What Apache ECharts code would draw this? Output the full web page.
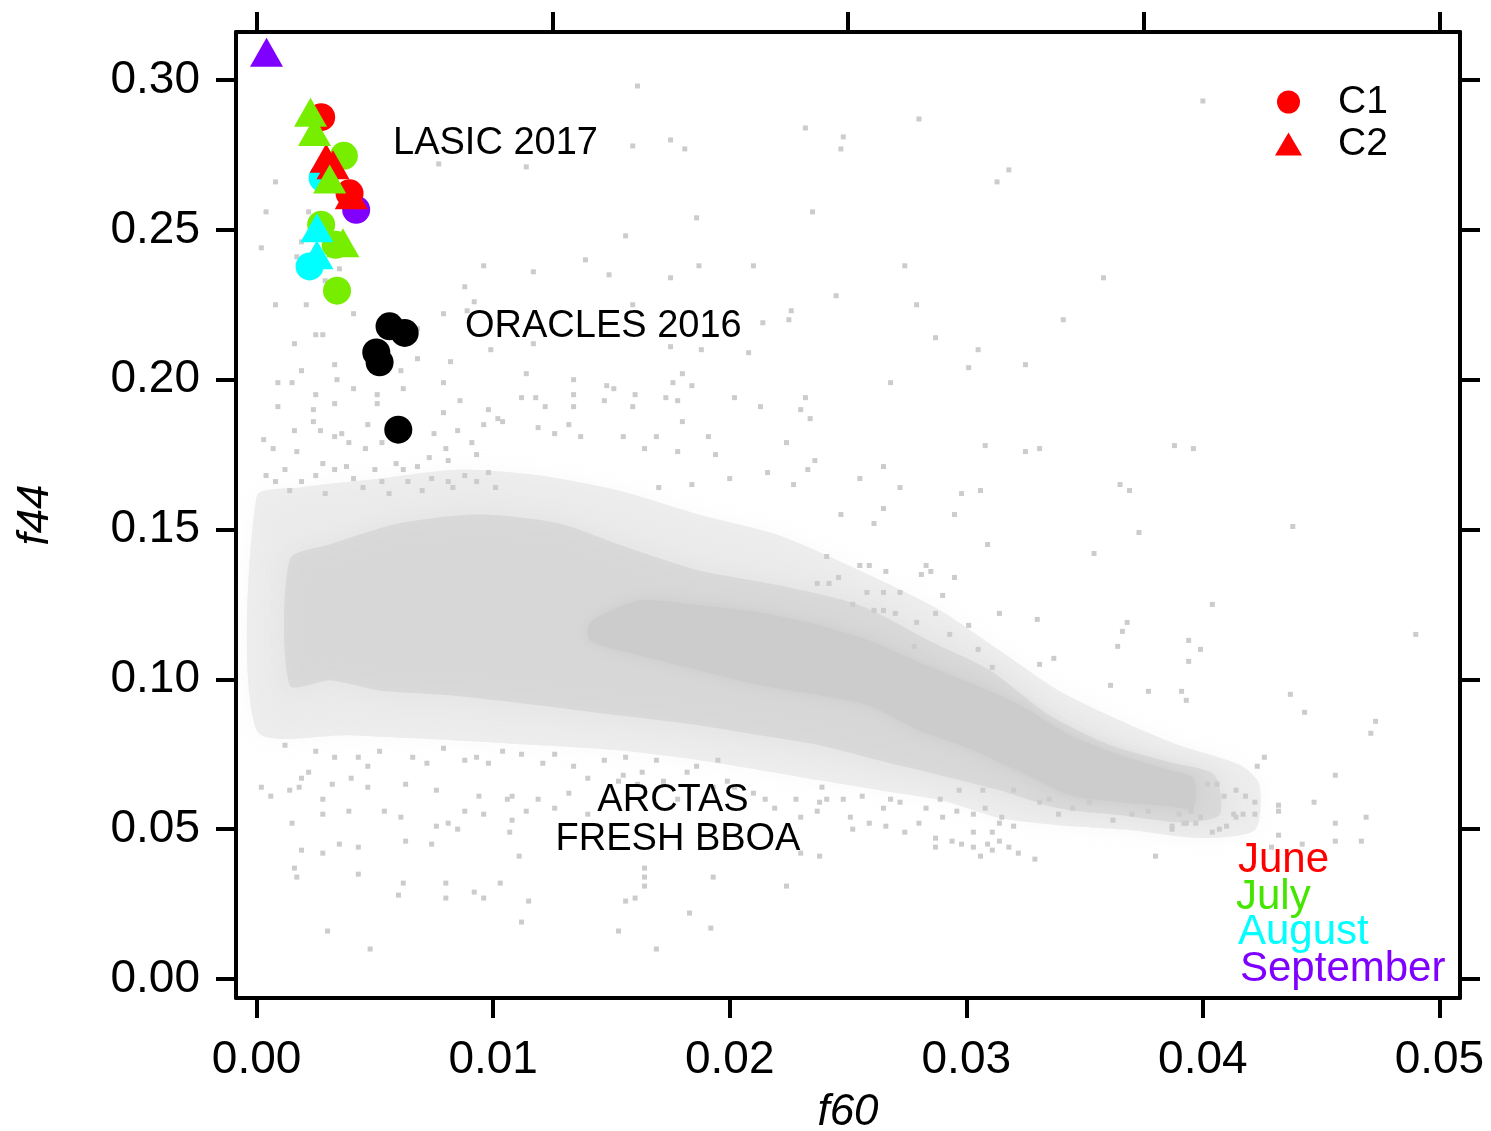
<!DOCTYPE html>
<html>
<head>
<meta charset="utf-8">
<title>f44 vs f60</title>
<script src="https://cdn.jsdelivr.net/npm/echarts@6/dist/echarts.min.js"></script>
<style>
html,body{margin:0;padding:0;background:#fff;}
#chart{width:1491px;height:1131px;}
</style>
</head>
<body>
<div id="chart"></div>
<script>
var FONT = "'Liberation Sans', Arial, Helvetica, sans-serif";

var xTicks = [0, 0.01, 0.02, 0.03, 0.04, 0.05];
var xTopTicks = [0, 0.0125, 0.025, 0.0375, 0.05];
var yTicks = [0, 0.05, 0.10, 0.15, 0.20, 0.25, 0.30];

// LASIC 2017 : C1 = circles, C2 = triangles, one colour per month
var juneC1 = [[0.00273,0.2876],[0.00393,0.2622]];
var juneC2 = [[0.00294,0.2739],[0.00323,0.2717],[0.0040,0.2617]];
var julyC1 = [[0.00369,0.2747],[0.00273,0.2517],[0.00334,0.2450],[0.00340,0.2297]];
var julyC2 = [[0.00228,0.2892],[0.00245,0.2828],[0.00309,0.2670],[0.00365,0.2457]];
var augustC1 = [[0.00279,0.2673],[0.00224,0.2378]];
var augustC2 = [[0.00255,0.2507],[0.00255,0.2417]];
var septC1 = [[0.00421,0.2567]];
var septC2 = [[0.00042,0.3093]];

// ORACLES 2016
var oracles = [[0.00562,0.2178],[0.00626,0.2156],[0.00506,0.2091],[0.00520,0.2058],[0.00599,0.1833]];

// ARCTAS fresh BBOA cloud: density outlines (light, medium, dense core)
var arctasOuter = [[0.0000,0.161],[0.0018,0.164],[0.0052,0.167],[0.0086,0.170],[0.0120,0.168],[0.0153,0.163],
  [0.0187,0.155],[0.0221,0.148],[0.0255,0.1363],[0.0289,0.123],[0.0314,0.1097],[0.0339,0.0963],[0.0365,0.0863],
  [0.0390,0.078],[0.0416,0.0713],[0.0424,0.0647],[0.0422,0.0497],[0.0399,0.047],[0.0369,0.0497],[0.0339,0.0513],
  [0.0314,0.0537],[0.0289,0.0597],[0.0263,0.063],[0.0238,0.0663],[0.0213,0.0697],[0.0187,0.073],[0.0153,0.0763],
  [0.0120,0.078],[0.0082,0.0797],[0.0039,0.0813],[0.0000,0.083]];
var arctasInner = [[0.0014,0.140],[0.0031,0.145],[0.0060,0.152],[0.0094,0.155],[0.0128,0.152],[0.0153,0.145],
  [0.0187,0.1363],[0.0221,0.1313],[0.0255,0.1247],[0.0284,0.113],[0.0310,0.103],[0.0335,0.088],[0.0361,0.078],
  [0.0386,0.0723],[0.0405,0.068],[0.0407,0.0547],[0.0390,0.0523],[0.0365,0.0547],[0.0339,0.057],[0.0314,0.063],
  [0.0289,0.068],[0.0263,0.073],[0.0238,0.078],[0.0213,0.0813],[0.0187,0.0847],[0.0153,0.088],[0.0120,0.0913],
  [0.0082,0.0947],[0.0052,0.0963],[0.0031,0.0997],[0.0014,0.098]];
var arctasCore = [[0.0141,0.119],[0.0162,0.1263],[0.0187,0.1247],[0.0213,0.1223],[0.0238,0.118],[0.0259,0.113],
  [0.0280,0.1057],[0.0301,0.099],[0.0323,0.0913],[0.0344,0.0813],[0.0365,0.0747],[0.0386,0.0697],[0.0396,0.067],
  [0.0396,0.057],[0.0386,0.0577],[0.0365,0.059],[0.0344,0.0613],[0.0323,0.069],[0.0301,0.077],[0.0280,0.083],
  [0.0259,0.0913],[0.0238,0.0947],[0.0213,0.098],[0.0187,0.103],[0.0162,0.108],[0.0141,0.113]];

// ARCTAS single points outside / around the dense part
var arctasPoints = [
  [0.0077,0.272],[0.0008,0.266],[0.0004,0.256],[0.0022,0.256],[0.0002,0.244],[0.0019,0.246],[0.0017,0.241],
  [0.0035,0.237],[0.0096,0.238],[0.0088,0.231],[0.0092,0.226],[0.0008,0.225],[0.0021,0.225],[0.0041,0.222],
  [0.0079,0.222],[0.0089,0.223],[0.0029,0.233],[0.0025,0.215],[0.0028,0.215],[0.0016,0.212],[0.0068,0.217],
  [0.0099,0.210],[0.0033,0.205],[0.0019,0.203],[0.0068,0.207],[0.0082,0.206],[0.0061,0.203],[0.0034,0.200],
  [0.0009,0.199],[0.0015,0.199],[0.0041,0.197],[0.0062,0.197],[0.0079,0.199],[0.0025,0.195],[0.0051,0.195],
  [0.0033,0.192],[0.0009,0.191],[0.0024,0.190],[0.0051,0.192],[0.0086,0.193],[0.0098,0.190],[0.0079,0.189],
  [0.0102,0.187],[0.0024,0.186],[0.0047,0.185],[0.0096,0.185],[0.0016,0.183],[0.0027,0.183],[0.0036,0.182],
  [0.0075,0.182],[0.0085,0.183],[0.0003,0.180],[0.0033,0.181],[0.0039,0.179],[0.0053,0.179],[0.0080,0.177],
  [0.0091,0.179],[0.0007,0.177],[0.0017,0.176],[0.0046,0.177],[0.0073,0.174],[0.0093,0.175],[0.0028,0.172],
  [0.0038,0.171],[0.0059,0.172],[0.0068,0.171],[0.0081,0.173],[0.0004,0.168],[0.0012,0.170],[0.0025,0.168],
  [0.0033,0.170],[0.0050,0.170],[0.0062,0.170],[0.0074,0.167],[0.0088,0.168],[0.0098,0.169],[0.0008,0.166],
  [0.0019,0.166],[0.0041,0.167],[0.0053,0.166],[0.0064,0.166],[0.0081,0.166],[0.0093,0.166],[0.0014,0.163],
  [0.0029,0.162],[0.0045,0.164],[0.0056,0.162],[0.0070,0.163],[0.0083,0.164],[0.0101,0.164],
  [0.0161,0.298],[0.0280,0.287],[0.0232,0.284],[0.0248,0.281],[0.0247,0.277],[0.0175,0.280],[0.0181,0.277],
  [0.0159,0.278],[0.0114,0.271],[0.0318,0.270],[0.0313,0.266],[0.0186,0.254],[0.0235,0.256],[0.0156,0.248],
  [0.0139,0.240],[0.0117,0.236],[0.0149,0.235],[0.0175,0.234],[0.0187,0.238],[0.0210,0.238],[0.0274,0.238],
  [0.0358,0.234],[0.0245,0.228],[0.0279,0.225],[0.0159,0.225],[0.0226,0.223],[0.0225,0.220],[0.0214,0.219],
  [0.0287,0.214],[0.0268,0.199],[0.0175,0.211],[0.0188,0.210],[0.0208,0.209],[0.0117,0.212],[0.0114,0.202],
  [0.0134,0.200],[0.0180,0.202],[0.0176,0.199],[0.0184,0.198],[0.0148,0.198],[0.0151,0.197],[0.0160,0.195],
  [0.0134,0.195],[0.0112,0.194],[0.0118,0.194],[0.0147,0.193],[0.0173,0.194],[0.0178,0.193],[0.0202,0.194],
  [0.0232,0.194],[0.0122,0.191],[0.0134,0.191],[0.0159,0.191],[0.0213,0.191],[0.0230,0.190],[0.0234,0.187],
  [0.0180,0.186],[0.0132,0.185],[0.0104,0.186],[0.0224,0.179],[0.0191,0.181],[0.0169,0.181],[0.0155,0.181],
  [0.0137,0.181],[0.0126,0.182],[0.0119,0.184],[0.0164,0.177],[0.0178,0.176],[0.0194,0.175],[0.0236,0.173],
  [0.0233,0.170],[0.0265,0.171],[0.0255,0.167],[0.0272,0.164],[0.0265,0.157],[0.0261,0.152],[0.0247,0.155],
  [0.0216,0.169],[0.0200,0.167],[0.0184,0.165],[0.0170,0.164],[0.0227,0.165],[0.0400,0.293],
  [0.0341,0.220],[0.0305,0.210],[0.0301,0.204],[0.0325,0.205],[0.0308,0.178],[0.0325,0.176],[0.0331,0.177],
  [0.0388,0.178],[0.0396,0.177],[0.0365,0.165],[0.0369,0.163],[0.0298,0.162],[0.0306,0.163],[0.0295,0.155],
  [0.0373,0.149],[0.0438,0.151],[0.0309,0.145],[0.0354,0.142],[0.0295,0.134],[0.0404,0.125],[0.0314,0.122],
  [0.0330,0.120],[0.0301,0.118],[0.0368,0.119],[0.0366,0.116],[0.0364,0.111],[0.0394,0.113],[0.0399,0.110],
  [0.0394,0.106],[0.0490,0.115],[0.0305,0.110],[0.0337,0.107],[0.0331,0.105],[0.0311,0.104],[0.0361,0.098],
  [0.0377,0.096],[0.0391,0.096],[0.0393,0.093],[0.0437,0.095],[0.0443,0.089],[0.0473,0.086],[0.0471,0.082],
  [0.0426,0.074],[0.0423,0.071],[0.0456,0.068],[0.0447,0.059],[0.0469,0.054],[0.0456,0.052],[0.0432,0.048],
  [0.0456,0.046],[0.0467,0.046],[0.0442,0.045],[0.0429,0.044],[0.0432,0.056],[0.0432,0.058],[0.0422,0.059],
  [0.0418,0.061],[0.0413,0.055],[0.0380,0.041],[0.0329,0.040],
  [0.0402,0.065],[0.0406,0.065],[0.0409,0.061],[0.0414,0.063],[0.0417,0.055],[0.0422,0.055],[0.0414,0.054],
  [0.0410,0.051],[0.0407,0.050],[0.0404,0.049],[0.0399,0.054],[0.0395,0.056],[0.0397,0.052],[0.0392,0.052],
  [0.0387,0.050],[0.0390,0.055],
  [0.0241,0.141],[0.0255,0.138],[0.0259,0.138],[0.0266,0.136],[0.0283,0.138],[0.0281,0.135],[0.0285,0.136],
  [0.0246,0.134],[0.0237,0.132],[0.0242,0.132],[0.0258,0.129],[0.0265,0.129],[0.0272,0.129],[0.0290,0.128],
  [0.0252,0.125],[0.0261,0.123],[0.0265,0.123],[0.0270,0.122],[0.0287,0.122],[0.0279,0.119],[0.0278,0.111],
  [0.0293,0.115],
  [0.0251,0.054],[0.0252,0.050],[0.0259,0.052],[0.0266,0.051],[0.0274,0.049],[0.0287,0.047],[0.0287,0.044],
  [0.0294,0.046],[0.0298,0.045],[0.0303,0.044],[0.0309,0.045],[0.0311,0.043],[0.0314,0.046],[0.0318,0.044],
  [0.0322,0.042],[0.0306,0.041],[0.0303,0.049],[0.0311,0.049],[0.0314,0.052],[0.0320,0.051],[0.0280,0.052],
  [0.0290,0.054],[0.0296,0.056],[0.0303,0.055],[0.0308,0.057],[0.0315,0.054],[0.0248,0.060],[0.0256,0.061],
  [0.0268,0.060],[0.0265,0.057],[0.0238,0.059],[0.0272,0.059],[0.0283,0.057],[0.0289,0.060],[0.0297,0.063],
  [0.0307,0.063],[0.0320,0.063],[0.0331,0.059],[0.0335,0.060],[0.0339,0.055],[0.0345,0.057],[0.0352,0.059],
  [0.0362,0.053],[0.0370,0.055],[0.0377,0.056],[0.0387,0.051],[0.0393,0.052],[0.0238,0.041],[0.0230,0.042],
  [0.0012,0.078],[0.0025,0.076],[0.0033,0.074],[0.0043,0.074],[0.0052,0.076],[0.0047,0.071],[0.0066,0.074],
  [0.0072,0.072],[0.0079,0.077],[0.0088,0.073],[0.0093,0.074],[0.0098,0.072],[0.0104,0.076],[0.0112,0.075],
  [0.0121,0.072],[0.0126,0.075],[0.0134,0.071],[0.0019,0.067],[0.0022,0.069],[0.0040,0.067],[0.0002,0.064],
  [0.0006,0.061],[0.0014,0.063],[0.0018,0.064],[0.0032,0.065],[0.0047,0.064],[0.0063,0.065],[0.0076,0.063],
  [0.0028,0.060],[0.0039,0.056],[0.0054,0.056],[0.0061,0.054],[0.0088,0.056],[0.0096,0.055],[0.0076,0.051],
  [0.0081,0.052],[0.0085,0.050],[0.0028,0.055],[0.0015,0.052],[0.0094,0.061],[0.0106,0.060],[0.0108,0.053],
  [0.0114,0.056],[0.0107,0.049],[0.0019,0.043],[0.0028,0.042],[0.0035,0.045],[0.0043,0.044],[0.0063,0.046],
  [0.0074,0.045],[0.0016,0.037],[0.0017,0.034],[0.0043,0.035],[0.0062,0.032],[0.0080,0.032],[0.0103,0.032],
  [0.0060,0.028],[0.0080,0.027],[0.0092,0.029],[0.0096,0.027],[0.0115,0.026],[0.0111,0.041],[0.0112,0.019],
  [0.0030,0.016],[0.0048,0.010],[0.0153,0.016],[0.0156,0.026],[0.0160,0.027],[0.0164,0.031],[0.0164,0.034],
  [0.0164,0.037],[0.0183,0.022],[0.0192,0.017],[0.0169,0.010],[0.0193,0.034],[0.0224,0.031],[0.0230,0.054],
  [0.0237,0.056],[0.0219,0.057],[0.0215,0.060],[0.0228,0.060],[0.0202,0.064],[0.0193,0.064],[0.0199,0.066],
  [0.0210,0.062],[0.0239,0.064],[0.0241,0.060],[0.0178,0.060],[0.0172,0.066],[0.0161,0.065],[0.0153,0.066],
  [0.0140,0.067],[0.0132,0.062],[0.0126,0.057],[0.0119,0.060],[0.0108,0.061],[0.0140,0.055],[0.0155,0.068],
  [0.0163,0.069],[0.0182,0.069],[0.0186,0.071],[0.0195,0.073],[0.0169,0.073],[0.0156,0.074],[0.0147,0.073]
];

var GRAY = '#cccccc';

function areaSeries(points, fill, blur) {
  return {
    type: 'custom',
    coordinateSystem: 'cartesian2d',
    silent: true,
    z: 1,
    data: points,
    renderItem: function(params, api) {
      if (params.context.rendered) return;
      params.context.rendered = true;
      var pts = points.map(function(p){ return api.coord(p); });
      return { type: 'polygon', shape: { points: pts, smooth: 0.25 },
        style: { fill: fill, shadowBlur: blur, shadowColor: fill } };
    }
  };
}

function markSeries(name, data, color, shape) {
  return {
    name: name,
    type: 'scatter',
    data: data,
    symbol: shape,
    symbolSize: shape === 'triangle' ? [33, 29] : 28,
    itemStyle: { color: color, opacity: 1 },
    z: 5,
    silent: true
  };
}

function axisBase(min, max) {
  return {
    type: 'value',
    min: min,
    max: max,
    splitLine: { show: false },
    axisLine: { onZero: false, lineStyle: { color: '#000', width: 4 } },
    axisTick: { show: true, length: 20, lineStyle: { color: '#000', width: 4 } }
  };
}

var xMain = axisBase(-0.00087, 0.05087);
xMain.position = 'bottom';
xMain.axisTick.customValues = xTicks;
xMain.axisLabel = { customValues: xTicks, formatter: function(v){ return v.toFixed(2); },
  fontSize: 46, color: '#000', fontFamily: FONT, margin: 39 };
xMain.name = 'f60';
xMain.nameLocation = 'middle';
xMain.nameGap = 93;
xMain.nameTextStyle = { fontSize: 44, fontStyle: 'italic', color: '#000', fontFamily: FONT };

var xTop = axisBase(-0.00087, 0.05087);
xTop.position = 'top';
xTop.axisTick.customValues = xTopTicks;
xTop.axisLabel = { show: false };

var yMain = axisBase(-0.00634, 0.31602);
yMain.position = 'left';
yMain.axisTick.customValues = yTicks;
yMain.axisLabel = { customValues: yTicks, formatter: function(v){ return v.toFixed(2); },
  fontSize: 46, color: '#000', fontFamily: FONT, margin: 36 };
yMain.name = 'f44';
yMain.nameLocation = 'middle';
yMain.nameGap = 178;
yMain.nameTextStyle = { fontSize: 44, fontStyle: 'italic', color: '#000', fontFamily: FONT };

var yRight = axisBase(-0.00634, 0.31602);
yRight.position = 'right';
yRight.axisTick.customValues = yTicks;
yRight.axisLabel = { show: false };

function note(text, x, y, color, size, align) {
  return { type: 'text', x: x, y: y, z: 100,
    style: { text: text, fill: color, fontSize: size, fontFamily: FONT,
      align: align || 'left', verticalAlign: 'middle' } };
}

var myChart = echarts.init(document.getElementById('chart'), null, { renderer: 'canvas' });
var option = {
  animation: false,
  backgroundColor: '#fff',
  grid: { left: 236, right: 31, top: 32, bottom: 133, containLabel: false, outerBoundsMode: 'none' },
  xAxis: [xMain, xTop],
  yAxis: [yMain, yRight],
  legend: {
    data: ['C1', 'C2'],
    orient: 'vertical',
    left: 1270,
    top: 76,
    itemWidth: 27,
    itemHeight: 23,
    itemGap: 0,
    selectedMode: false,
    textStyle: { fontSize: 39, color: '#000', fontFamily: FONT, lineHeight: 42, padding: [0, 0, 0, 31] }
  },
  graphic: [
    note('LASIC 2017', 393, 144, '#000', 38),
    note('ORACLES 2016', 465, 327, '#000', 38),
    note('ARCTAS', 673, 801, '#000', 38, 'center'),
    note('FRESH BBOA', 678, 840, '#000', 38, 'center'),
    note('June', 1238, 860, '#ff0000', 42),
    note('July', 1236, 897, '#44e600', 42),
    note('August', 1238, 932, '#00ffff', 42),
    note('September', 1240, 969, '#8000ff', 42)
  ],
  series: [
    areaSeries(arctasOuter, 'rgba(204,204,204,0.32)', 24),
    areaSeries(arctasInner, 'rgba(204,204,204,0.5)', 20),
    areaSeries(arctasCore, GRAY, 14),
    {
      name: 'ARCTAS', type: 'scatter', data: arctasPoints, symbol: 'rect', symbolSize: 5,
      itemStyle: { color: GRAY, opacity: 1 }, z: 2, silent: true
    },
    markSeries('ORACLES', oracles, '#000000', 'circle'),
    markSeries('Aug C1', augustC1, '#00ffff', 'circle'),
    markSeries('Sep C1', septC1, '#8000ff', 'circle'),
    markSeries('Jul C1', julyC1, '#77ee00', 'circle'),
    markSeries('Jun C1', juneC1, '#ff0000', 'circle'),
    markSeries('Jun C2', juneC2, '#ff0000', 'triangle'),
    markSeries('Jul C2', julyC2, '#77ee00', 'triangle'),
    markSeries('Aug C2', augustC2, '#00ffff', 'triangle'),
    markSeries('Sep C2', septC2, '#8000ff', 'triangle'),
    { name: 'C1', type: 'scatter', data: [], symbol: 'circle', itemStyle: { color: '#ff0000', opacity: 1 } },
    { name: 'C2', type: 'scatter', data: [], symbol: 'triangle', itemStyle: { color: '#ff0000', opacity: 1 } }
  ]
};
myChart.setOption(option);
</script>
</body>
</html>
